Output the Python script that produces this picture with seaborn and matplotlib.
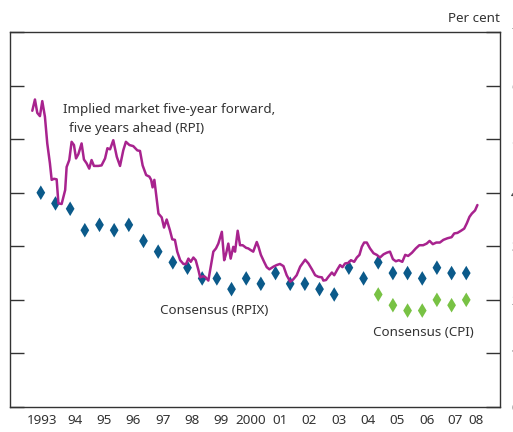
import matplotlib
matplotlib.use("Agg")
import matplotlib.pyplot as plt
import seaborn as sns
import pandas as pd

# Implied market five-year forward, five years ahead (RPI), per cent
fwd_dates = [1993.01, 1993.10, 1993.18, 1993.27, 1993.35, 1993.44, 1993.52, 1993.61, 1993.67,
             1993.75, 1993.84, 1993.90, 1994.01, 1994.13, 1994.18, 1994.27, 1994.35, 1994.43,
             1994.50, 1994.58, 1994.69, 1994.77, 1994.86, 1994.95, 1995.03, 1995.11, 1995.26,
             1995.37, 1995.49, 1995.57, 1995.66, 1995.77, 1995.89, 1996.00, 1996.11, 1996.20,
             1996.32, 1996.45, 1996.59, 1996.68, 1996.77, 1996.89, 1997.00, 1997.06, 1997.11,
             1997.17, 1997.31, 1997.42, 1997.50, 1997.59, 1997.70, 1997.78, 1997.87, 1997.95,
             1998.05, 1998.16, 1998.25, 1998.33, 1998.41, 1998.50, 1998.58, 1998.67, 1998.73,
             1998.82, 1998.90, 1999.01, 1999.09, 1999.18, 1999.27, 1999.35, 1999.47, 1999.55,
             1999.61, 1999.69, 1999.77, 1999.86, 1999.92, 2000.01, 2000.09, 2000.18, 2000.30,
             2000.37, 2000.45, 2000.54, 2000.66, 2000.72, 2000.80, 2000.91, 2001.00, 2001.09,
             2001.23, 2001.34, 2001.45, 2001.57, 2001.68, 2001.80, 2001.90, 2002.02, 2002.14,
             2002.31, 2002.42, 2002.54, 2002.65, 2002.76, 2002.88, 2002.93, 2003.02, 2003.10,
             2003.22, 2003.30, 2003.41, 2003.50, 2003.58, 2003.67, 2003.78, 2003.87, 2003.98,
             2004.07, 2004.16, 2004.24, 2004.32, 2004.41, 2004.52, 2004.64, 2004.75, 2004.86,
             2004.98, 2005.09, 2005.20, 2005.30, 2005.40, 2005.50, 2005.62, 2005.72, 2005.82,
             2005.95, 2006.08, 2006.20, 2006.33, 2006.45, 2006.55, 2006.66, 2006.78, 2006.90,
             2007.02, 2007.16, 2007.30, 2007.39, 2007.50, 2007.62, 2007.73, 2007.82, 2007.91,
             2007.99, 2008.10, 2008.18]
fwd_rate = [5.53, 5.74, 5.49, 5.43, 5.71, 5.42, 4.92, 4.55, 4.24,
            4.26, 4.25, 3.80, 3.79, 4.05, 4.48, 4.61, 4.95, 4.89,
            4.64, 4.72, 4.92, 4.62, 4.55, 4.45, 4.61, 4.50, 4.50,
            4.51, 4.64, 4.83, 4.81, 4.98, 4.67, 4.50, 4.79, 4.95,
            4.89, 4.87, 4.79, 4.78, 4.51, 4.33, 4.30, 4.24, 4.10,
            4.24, 3.61, 3.54, 3.35, 3.50, 3.30, 3.13, 3.12, 2.90,
            2.74, 2.67, 2.67, 2.77, 2.71, 2.79, 2.74, 2.56, 2.42,
            2.44, 2.43, 2.36, 2.61, 2.90, 2.96, 3.05, 3.27, 2.74,
            2.85, 3.05, 2.77, 2.99, 2.90, 3.29, 3.02, 3.02, 2.97,
            2.96, 2.93, 2.90, 3.08, 2.99, 2.84, 2.71, 2.61, 2.57,
            2.62, 2.65, 2.67, 2.63, 2.46, 2.34, 2.38, 2.46, 2.62,
            2.75, 2.68, 2.57, 2.46, 2.43, 2.42, 2.36, 2.37, 2.43,
            2.51, 2.46, 2.57, 2.65, 2.61, 2.68, 2.69, 2.74, 2.71,
            2.79, 2.84, 2.99, 3.07, 3.07, 2.96, 2.87, 2.84, 2.79,
            2.85, 2.88, 2.90, 2.76, 2.72, 2.74, 2.71, 2.84, 2.82,
            2.88, 2.96, 3.02, 3.02, 3.05, 3.10, 3.04, 3.07, 3.07,
            3.12, 3.15, 3.17, 3.24, 3.25, 3.29, 3.33, 3.43, 3.55,
            3.61, 3.67, 3.77]

# Consensus (RPIX) forecasts
rpix_dates = [1993.3, 1993.8, 1994.3, 1994.8, 1995.3, 1995.8, 1996.3, 1996.8, 1997.3, 1997.8,
              1998.3, 1998.8, 1999.3, 1999.8, 2000.3, 2000.8, 2001.3, 2001.8, 2002.3, 2002.8,
              2003.3, 2003.8, 2004.3, 2004.8, 2005.3, 2005.8, 2006.3, 2006.8, 2007.3, 2007.8]
rpix_rate = [4.0, 3.8, 3.7, 3.3, 3.4, 3.3, 3.4, 3.1, 2.9, 2.7,
             2.6, 2.4, 2.4, 2.2, 2.4, 2.3, 2.5, 2.3, 2.3, 2.2,
             2.1, 2.6, 2.4, 2.7, 2.5, 2.5, 2.4, 2.6, 2.5, 2.5]

# Consensus (CPI) forecasts
cpi_dates = [2004.8, 2005.3, 2005.8, 2006.3, 2006.8, 2007.3, 2007.8]
cpi_rate = [2.1, 1.9, 1.8, 1.8, 2.0, 1.9, 2.0]

years = list(range(1993, 2009))
year_labels = ["1993", "94", "95", "96", "97", "98", "99", "2000",
               "01", "02", "03", "04", "05", "06", "07", "08"]

sns.set_style("white")
plt.rcParams["font.family"] = ["Noto Sans", "DejaVu Sans"]
txt = "#333333"
fs = 9.7

fwd = pd.DataFrame({"date": fwd_dates, "rate": fwd_rate})
rpix = pd.DataFrame({"date": rpix_dates, "rate": rpix_rate})
cpi = pd.DataFrame({"date": cpi_dates, "rate": cpi_rate})

fig = plt.figure(figsize=(5.13, 4.32), dpi=100)
ax = fig.add_axes([10 / 513, 25 / 432, 490 / 513, 375 / 432])

sns.lineplot(data=fwd, x="date", y="rate", ax=ax, color="#a8238e", linewidth=1.8)
sns.scatterplot(data=rpix, x="date", y="rate", ax=ax, marker="d", s=55,
                color="#0b5a8a", edgecolor="none")
sns.scatterplot(data=cpi, x="date", y="rate", ax=ax, marker="d", s=55,
                color="#78c244", edgecolor="none")

ax.set_xlim(1992.25, 2008.95)
ax.set_ylim(0, 7)
ax.set_xlabel("")
ax.set_ylabel("")

# year ticks at year boundaries, labels in the middle of each year
ax.set_xticks(years)
ax.set_xticklabels([])
label_pos = [y + 0.45 for y in years]
label_pos[0] = 1993.36
label_pos[-2] = 2007.42
label_pos[-1] = 2008.14
ax.set_xticks(label_pos, minor=True)
ax.set_xticklabels(year_labels, minor=True, fontsize=fs, color=txt)
ax.tick_params(axis="x", which="major", direction="in", length=8, width=1, color=txt)
ax.tick_params(axis="x", which="minor", length=0, pad=5)

# right-hand scale; the labels run off the edge of the picture as in the original
ax.set_yticks(range(0, 8))
ax.yaxis.tick_right()
ax.tick_params(axis="y", which="major", direction="in", length=10, width=1, color=txt,
               left=True, right=True, labelleft=False, labelright=True,
               labelsize=fs, labelcolor=txt, pad=8)

for side in ["left", "right", "top", "bottom"]:
    ax.spines[side].set_visible(True)
    ax.spines[side].set_color(txt)
    ax.spines[side].set_linewidth(1)

ax.text(1994.06, 5.56, "Implied market five-year forward,", fontsize=fs, color=txt, va="center")
ax.text(1994.27, 5.19, "five years ahead (RPI)", fontsize=fs, color=txt, va="center")
ax.text(1997.37, 1.80, "Consensus (RPIX)", fontsize=fs, color=txt, va="center")
ax.text(2004.62, 1.39, "Consensus (CPI)", fontsize=fs, color=txt, va="center")
fig.text(500 / 513, 1 - 18 / 432, "Per cent", fontsize=fs, color=txt, va="center", ha="right")

fig.savefig("out.png", dpi=100)
